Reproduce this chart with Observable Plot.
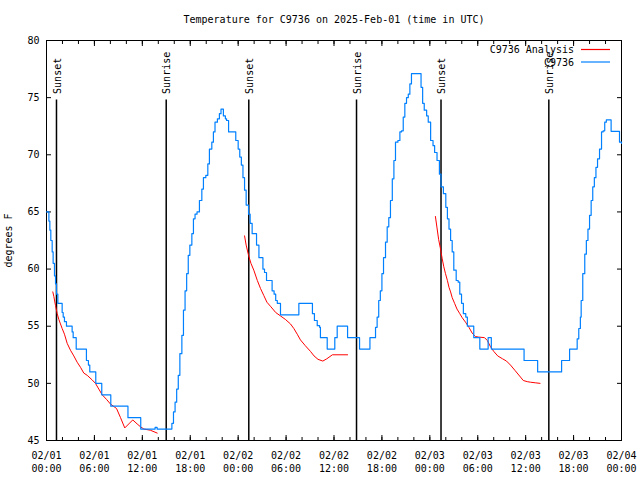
<!DOCTYPE html>
<html><head><meta charset="utf-8">
<script src="https://cdn.jsdelivr.net/npm/d3@7"></script>
<script src="https://cdn.jsdelivr.net/npm/@observablehq/plot@0.6"></script>
<style>body{margin:0;background:#fff} #chart{width:640px;height:480px;position:relative}</style>
</head><body><div id="chart"></div>
<script>
// hours after 2025-02-01 00:00 UTC
const title = "Temperature for C9736 on 2025-Feb-01 (time in UTC)";
const yLabel = "degrees F";
const seriesNames = ["C9736 Analysis", "C9736"];
const seriesColors = ["#ff0000", "#0080ff"];
const xTickHours = [0, 6, 12, 18, 24, 30, 36, 42, 48, 54, 60, 66, 72];
const xTickLabels = ["02/01\n00:00","02/01\n06:00","02/01\n12:00","02/01\n18:00",
  "02/02\n00:00","02/02\n06:00","02/02\n12:00","02/02\n18:00",
  "02/03\n00:00","02/03\n06:00","02/03\n12:00","02/03\n18:00","02/04\n00:00"];
const xMinorHours = [0,2,4,6,8,10,12,14,16,18,20,22,24,26,28,30,32,34,36,38,40,42,44,46,48,50,52,54,56,58,60,62,64,66,68,70,72];
const yTicks = [45, 50, 55, 60, 65, 70, 75, 80];
const sunHours = [1.25, 14.99, 25.33, 38.82, 49.4, 62.9];
const sunLabels = ["Sunset", "Sunrise", "Sunset", "Sunrise", "Sunset", "Sunrise"];
const sunLineTop = 74.8;

const observed = [
[0,65.0],[0.3,64.2],[0.42,63.4],[0.54,62.5],[0.71,61.5],[0.83,60.5],[1.0,59.4],[1.13,58.7],[1.25,57.8],[1.42,57.0],
[1.96,56.2],[2.09,55.8],[2.25,55.4],[2.5,55.0],[3.21,54.5],[3.34,54.0],[3.72,53.0],[5.0,52.0],[5.25,51.6],[5.42,51.0],
[6.17,50.0],[6.92,49.0],[8.05,48.0],[10.2,47.0],[11.8,46.0],[13.6,46.15],[13.85,46.0],
[15.7,46.5],[15.9,47.5],[16.1,48.35],[16.3,49.5],[16.5,50.7],[16.7,52.6],[16.95,54.2],[17.15,56.4],[17.35,58.1],
[17.55,59.6],[17.75,61.2],[17.95,62.1],[18.2,63.1],[18.4,64.4],[18.6,64.8],[18.85,65.0],[19.15,66.0],[19.45,67.0],
[19.65,68.0],[19.95,68.2],[20.2,69.2],[20.4,70.5],[20.7,71.1],[20.9,72.0],[21.1,72.85],[21.4,73.15],[21.65,73.6],
[21.85,74.0],[22.15,73.4],[22.4,73.15],[22.55,73.0],[22.8,72.0],[23.7,71.25],[24.0,70.5],[24.2,69.8],[24.4,69.1],
[24.6,68.0],[24.8,66.9],[25.0,65.6],[25.3,64.8],[25.5,64.0],[25.75,63.1],[26.3,62.1],[26.6,61.0],[27.1,60.0],
[27.3,59.7],[27.55,59.0],[28.25,58.1],[28.5,57.8],[28.7,57.25],[28.9,57.0],[29.3,56.0],[31.6,57.0],[33.3,56.1],
[33.55,55.5],[33.9,55.05],[34.2,54.9],[34.3,54.0],[35.15,53.0],[36.1,54.0],[36.4,55.0],[37.7,54.0],[39.2,53.0],
[40.5,54.0],[41.2,54.9],[41.4,55.8],[41.6,57.25],[41.8,58.1],[42.0,59.6],[42.2,61.0],[42.45,62.35],[42.66,63.7],
[42.86,64.5],[43.07,66.0],[43.3,67.9],[43.5,69.5],[43.7,71.1],[44.0,71.25],[44.25,72.0],[44.45,72.1],[44.67,73.3],
[44.87,74.5],[45.08,75.0],[45.3,75.3],[45.5,76.2],[45.7,77.1],[46.9,75.9],[47.1,74.5],[47.3,73.9],[47.6,73.4],
[47.8,72.85],[48.1,71.25],[48.4,70.8],[48.6,70.2],[48.9,69.5],[49.2,68.3],[49.4,67.2],[49.7,66.6],[50.0,65.4],
[50.2,64.4],[50.4,63.5],[50.6,62.5],[50.8,61.5],[51.0,59.9],[51.3,59.0],[51.55,58.85],[51.75,57.8],[51.97,57.0],
[52.2,56.1],[52.5,55.8],[52.7,55.0],[53.5,54.0],[54.26,53.0],[55.3,54.0],[55.7,53.0],[59.8,52.0],[61.5,51.0],
[64.5,52.0],[65.5,53.0],[66.45,53.9],[66.65,54.8],[66.85,55.8],[66.95,57.25],[67.15,59.6],[67.4,61.3],[67.6,62.5],
[67.8,63.5],[68.0,64.7],[68.2,66.0],[68.4,67.2],[68.6,68.0],[68.8,68.9],[69.0,69.65],[69.25,70.5],[69.5,72.0],
[69.7,72.1],[69.9,72.85],[70.1,73.05],[70.7,72.05],[71.75,71.1],[72,71.0]
];

const analysis1 = [[0.79,58.0],[0.92,57.6],[1.13,56.8],[1.34,56.1],[1.54,55.6],[1.75,55.2],[1.96,54.8],[2.25,54.3],
[2.59,53.5],[3.0,52.9],[3.42,52.4],[3.84,51.85],[4.26,51.4],[4.67,50.9],[5.1,50.7],[5.72,50.3],[6.13,50.0],[6.55,49.5],
[6.97,49.0],[7.51,48.6],[8.0,48.2],[8.77,47.8],[9.27,47.0],[9.8,46.1],[10.3,46.45],[10.8,46.8],[11.35,46.45],
[11.77,46.2],[12.2,46.0],[13.0,45.9],[13.86,45.65]];
const analysis2 = [[24.8,62.9],[25.0,62.1],[25.3,61.2],[25.6,60.5],[25.96,59.9],[26.4,59.0],[26.8,58.3],[27.2,57.7],
[27.6,57.1],[28.1,56.7],[28.7,56.2],[29.3,55.9],[29.9,55.6],[30.55,55.2],[30.97,54.8],[31.4,54.3],[31.8,53.8],
[32.4,53.3],[33.05,52.8],[33.5,52.4],[34.0,52.1],[34.6,51.95],[35.1,52.15],[35.8,52.5],[37.7,52.5]];
const analysis3 = [[48.7,64.6],[48.9,63.6],[49.1,62.6],[49.3,61.9],[49.55,60.9],[49.75,60.2],[49.96,59.6],[50.2,59.0],
[50.4,58.4],[50.6,58.0],[50.8,57.5],[51.1,57.0],[51.4,56.5],[51.75,56.1],[52.05,55.75],[52.47,55.35],[52.9,54.9],
[53.3,54.4],[53.7,54.1],[54.1,54.05],[54.85,54.0],[55.2,53.75],[55.6,53.2],[56.0,52.8],[56.5,52.4],[57.1,52.15],
[57.6,51.95],[58.1,51.6],[58.7,51.1],[59.35,50.55],[59.7,50.25],[60.2,50.15],[60.6,50.1],[61.2,50.05],[61.8,50.0]];

const font = "'DejaVu Sans Mono', 'Liberation Mono', monospace";
const obsData = observed.map(([h, t]) => ({h, t}));
const anaData = [analysis1, analysis2, analysis3].flatMap((a, i) => a.map(([h, t]) => ({h, t, seg: i})));
const sunData = sunHours.map((h, i) => ({h, label: sunLabels[i]}));
const labelOf = h => xTickLabels[xTickHours.indexOf(h)];

const plot = Plot.plot({
  width: 640, height: 480,
  marginLeft: 46, marginRight: 19, marginTop: 40, marginBottom: 40,
  style: {fontFamily: font, fontSize: "10px", background: "white", color: "black", overflow: "visible"},
  x: {domain: [0, 72]},
  y: {domain: [45, 80]},
  marks: [
    // inward ticks (mirrored on all four sides)
    Plot.axisX(xTickHours, {anchor: "bottom", tickSize: 5, dy: -5, tickFormat: () => "", label: null}),
    Plot.axisX(xMinorHours, {anchor: "bottom", tickSize: 3, dy: -3, tickFormat: () => "", label: null}),
    Plot.axisX(xTickHours, {anchor: "top", tickSize: 5, dy: 5, tickFormat: () => "", label: null}),
    Plot.axisX(xMinorHours, {anchor: "top", tickSize: 3, dy: 3, tickFormat: () => "", label: null}),
    Plot.axisY(yTicks, {anchor: "left", tickSize: 5, dx: 5, tickFormat: () => "", label: null}),
    Plot.axisY(yTicks, {anchor: "right", tickSize: 5, dx: -5, tickFormat: () => "", label: null}),
    // tick labels
    Plot.axisX(xTickHours, {anchor: "bottom", tickSize: 0, tickPadding: 9, tickFormat: labelOf, label: null, lineHeight: 1.3}),
    Plot.axisY(yTicks, {anchor: "left", tickSize: 0, tickPadding: 7, label: null}),
    Plot.frame({stroke: "black"}),
    // sunrise / sunset markers
    Plot.ruleX(sunData, {x: "h", y1: 45, y2: sunLineTop, stroke: "black", strokeWidth: 1.5}),
    Plot.text(sunData, {x: "h", y: sunLineTop, text: "label", rotate: -90, textAnchor: "start", dy: -6, dx: 1, fill: "black"}),
    // series
    Plot.line(anaData, {x: "h", y: "t", z: "seg", stroke: seriesColors[0], strokeWidth: 1}),
    Plot.line(obsData, {x: "h", y: "t", curve: "step-after", stroke: seriesColors[1], strokeWidth: 1.2}),
    // title and y label
    Plot.text([title], {text: d => d, frameAnchor: "top", dy: -25, fill: "black"}),
    Plot.text([yLabel], {text: d => d, frameAnchor: "left", textAnchor: "middle", dx: -38, rotate: -90, fill: "black"})
  ]
});

document.getElementById("chart").appendChild(plot);

// legend (inside top-right of the frame)
const svg = d3.select(plot);
const xr = plot.scale("x").range[1];
const yt = plot.scale("y").range[1];
const lg = svg.append("g").attr("font-family", font).attr("font-size", 10);
seriesNames.forEach((name, i) => {
  const yy = yt + 9.5 + i * 12.5;
  lg.append("text").attr("x", xr - 47).attr("y", yy).attr("dy", "0.35em")
    .attr("text-anchor", "end").attr("fill", "black").text(name);
  lg.append("line").attr("x1", xr - 40).attr("x2", xr - 11).attr("y1", yy).attr("y2", yy)
    .attr("stroke", seriesColors[i]).attr("stroke-width", 1.2);
});
</script>
</body></html>
